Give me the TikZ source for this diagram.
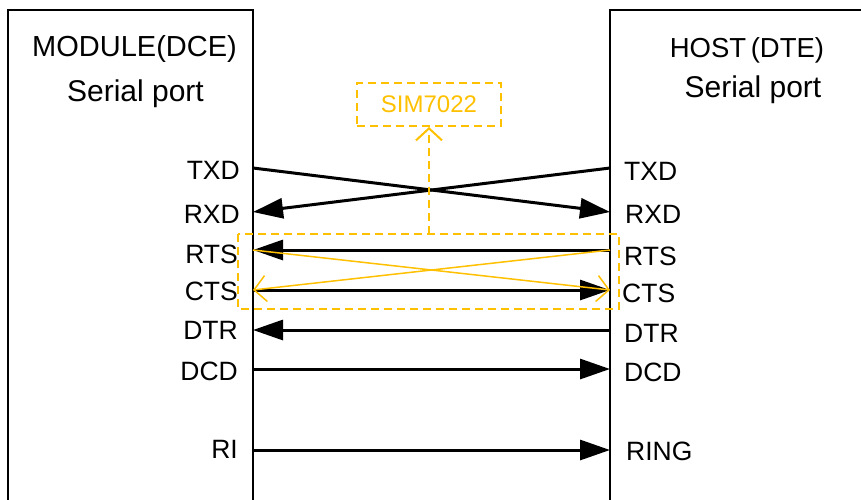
\documentclass[tikz,border=0pt]{standalone}
\usepackage{fontspec}
\setmainfont{Liberation Sans}
\usetikzlibrary{arrows.meta}
\definecolor{simorange}{RGB}{255,192,0}
\tikzset{
  portbox/.style={line width=2pt, draw=black},
  sig/.style={line width=3pt, draw=black, -{Triangle[length=30pt,width=20pt]}},
  osig/.style={line width=1.5pt, draw=simorange, -{Straight Barb[length=12pt,width=26pt,line width=1.5pt]}},
  obox/.style={line width=2pt, draw=simorange, dash pattern=on 8pt off 5pt},
  llab/.style={font=\fontsize{26.5}{30}\selectfont, inner sep=0pt, anchor=base east},
  rlab/.style={font=\fontsize{26.5}{30}\selectfont, inner sep=0pt, anchor=base west},
  head/.style={font=\fontsize{29}{32}\selectfont, inner sep=0pt, anchor=base},
}
\begin{document}
\begin{tikzpicture}[x=1pt,y=-1pt]
\useasboundingbox (0,0) rectangle (861,499);
\clip (0,0) rectangle (861,499);
% boxes
\draw[portbox] (8,520) -- (8,10) -- (253,10) -- (253,520);
\draw[portbox] (610,520) -- (610,10) -- (880,10);
% headers
\node[head] (mh) at (134.5,56) {MODULE(DCE)};
\node[head, font=\fontsize{30}{32}\selectfont] (ms) at (135.5,101) {Serial port};
\node[head, font=\fontsize{27.5}{32}\selectfont] (hh) at (747,57) {HOST\,(DTE)};
\node[head, font=\fontsize{30}{32}\selectfont] (hs) at (753,97) {Serial port};
% port coordinates
\coordinate (LTXD) at (253,168);
\coordinate (LRXD) at (253,212);
\coordinate (LRTS) at (253,250);
\coordinate (LCTS) at (253,290);
\coordinate (LDTR) at (253,330);
\coordinate (LDCD) at (253,369);
\coordinate (LRI)  at (253,450);
\coordinate (RTXD) at (610,168);
\coordinate (RRXD) at (610,212);
\coordinate (RRTS) at (610,250);
\coordinate (RCTS) at (610,290);
\coordinate (RDTR) at (610,330);
\coordinate (RDCD) at (610,369);
\coordinate (RRI)  at (610,450);
% labels left
\node[llab] (lt) at (240,179) {TXD};
\node[llab] (lr) at (240,223) {RXD};
\node[llab] (lrt) at (238,263) {RTS};
\node[llab] (lc) at (238,300) {CTS};
\node[llab] (ld) at (238,339) {DTR};
\node[llab] (ldc) at (238,380) {DCD};
\node[llab] (li) at (238,458) {RI};
% labels right
\node[rlab] (rt) at (624,180) {TXD};
\node[rlab] (rr) at (625,223) {RXD};
\node[rlab] (rrt) at (624,265) {RTS};
\node[rlab] (rc) at (622,302) {CTS};
\node[rlab] (rd) at (624,342) {DTR};
\node[rlab] (rdc) at (624,381) {DCD};
\node[rlab] (rri) at (626,460) {RING};
% signals
\draw[sig] (LTXD) -- (RRXD);
\draw[sig] (RTXD) -- (LRXD);
\draw[sig] (RRTS) -- (LRTS);
\draw[sig] (LCTS) -- (RCTS);
\draw[sig] (RDTR) -- (LDTR);
\draw[sig] (LDCD) -- (RDCD);
\draw[sig] (LRI) -- (RRI);
% orange crossing
\draw[osig] (LRTS) -- (RCTS);
\draw[osig] (RRTS) -- (LCTS);
% orange dashed box
\draw[obox] (238,234) rectangle (619,309);
\coordinate (otop) at (429,234);
\node[draw=simorange, line width=2pt, dash pattern=on 8pt off 5pt, text=simorange,
      font=\fontsize{24}{28}\selectfont, minimum width=144pt, minimum height=43pt, inner sep=0pt]
      (sim) at (429,104.5) {SIM7022};
\draw[line width=2pt, draw=simorange, dash pattern=on 8pt off 5pt,
      -{Straight Barb[length=12pt,width=26pt,line width=2pt]}] (otop) -- (sim.south);
\end{tikzpicture}
\end{document}
